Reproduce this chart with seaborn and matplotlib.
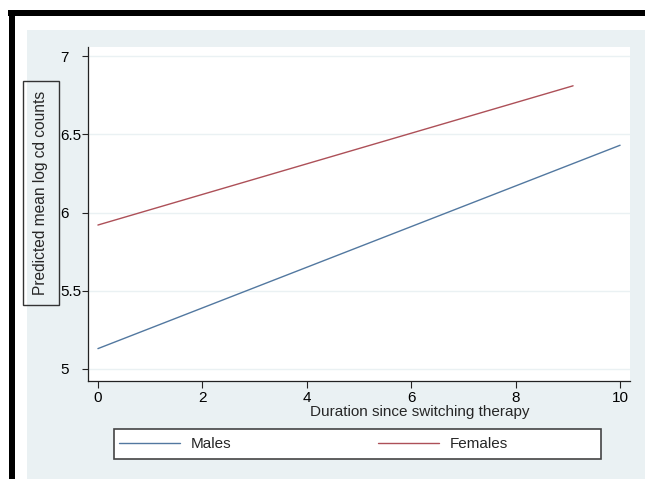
import numpy as np
import pandas as pd
import matplotlib
matplotlib.use("Agg")
import matplotlib.pyplot as plt
from matplotlib.patches import Rectangle
import seaborn as sns

# --- Data ---
male_duration = [0, 10]
male_pred = [5.13, 6.43]
female_duration = [0, 9.1]
female_pred = [5.92, 6.81]
groups = ["Males", "Females"]
x_ticks = [0, 2, 4, 6, 8, 10]
y_ticks = [5, 5.5, 6, 6.5, 7]
y_ticklabels = ["5", "5.5", "6", "6.5", "7"]

df = pd.concat([
    pd.DataFrame({"duration": male_duration, "pred": male_pred, "group": groups[0]}),
    pd.DataFrame({"duration": female_duration, "pred": female_pred, "group": groups[1]}),
])

sns.set_style("ticks")
plt.rcParams["font.family"] = ["Liberation Sans", "DejaVu Sans"]
plt.rcParams["font.size"] = 11

W, H = 645, 479
fig = plt.figure(figsize=(W / 100, H / 100), dpi=100)
fig.patch.set_facecolor("white")

def fx(px):
    return px / W

def fy(py):
    return 1 - py / H

# background panel and black frame
fig.add_artist(Rectangle((fx(27), 0), 1 - fx(27), fy(30), transform=fig.transFigure,
                         facecolor="#eaf1f3", edgecolor="none", zorder=-2))
fig.add_artist(Rectangle((fx(8), fy(16)), 1 - fx(8), 6 / H, transform=fig.transFigure,
                         facecolor="black", edgecolor="none", zorder=-1))
fig.add_artist(Rectangle((fx(9), 0), 6 / W, fy(10), transform=fig.transFigure,
                         facecolor="black", edgecolor="none", zorder=-1))
# legend box (below the axes so the legend entries sit on top)
fig.add_artist(Rectangle((fx(114), fy(459)), (601 - 114) / W, 30 / H, transform=fig.transFigure,
                         facecolor="white", edgecolor="#444444", linewidth=1.2, zorder=-0.5))

ax = fig.add_axes([fx(88), fy(381), (630 - 88) / W, (381 - 47) / H])
ax.set_facecolor("white")

palette = {"Males": "#5278a0", "Females": "#ad5058"}
sns.lineplot(data=df, x="duration", y="pred", hue="group", hue_order=groups,
             palette=palette, linewidth=1.0, ax=ax)

ax.set_xlim(-0.19, 10.19)
ax.set_ylim(4.923, 7.058)
ax.set_xticks(x_ticks)
ax.set_yticks(y_ticks)
ax.set_yticklabels(y_ticklabels)
for lab in ax.get_yticklabels():
    lab.set_horizontalalignment("left")
ax.tick_params(axis="y", length=4, width=0.8, pad=16, colors="#222222", labelcolor="black")
ax.tick_params(axis="x", length=5, width=0.8, pad=2, colors="#222222", labelcolor="black")
ax.grid(axis="y", color="#eaf1f3", linewidth=1.0)
ax.set_axisbelow(True)
sns.despine(ax=ax)
for side in ["left", "bottom"]:
    ax.spines[side].set_color("#222222")
    ax.spines[side].set_linewidth(0.9)

ax.set_xlabel("Duration since switching therapy", fontsize=11)
ax.xaxis.set_label_coords((420 - 88) / 542, (381 - 412) / 334)
ax.xaxis.label.set_va("center")

ax.set_ylabel("Predicted mean log cd counts", fontsize=11.2,
              bbox=dict(boxstyle="square,pad=0.65", facecolor="none",
                        edgecolor="#333333", linewidth=1.0))
ax.yaxis.set_label_coords((41 - 88) / 542, (381 - 193) / 334)
ax.yaxis.label.set_va("center")

handles, labels = ax.get_legend_handles_labels()
leg = ax.legend(handles, labels, ncol=2, loc="center left",
                bbox_to_anchor=(fx(119), fy(444)), bbox_transform=fig.transFigure,
                frameon=False, fontsize=11,
                handlelength=4.0, handletextpad=0.7, columnspacing=9.6,
                borderaxespad=0, borderpad=0)

fig.savefig("out.png", dpi=100)
